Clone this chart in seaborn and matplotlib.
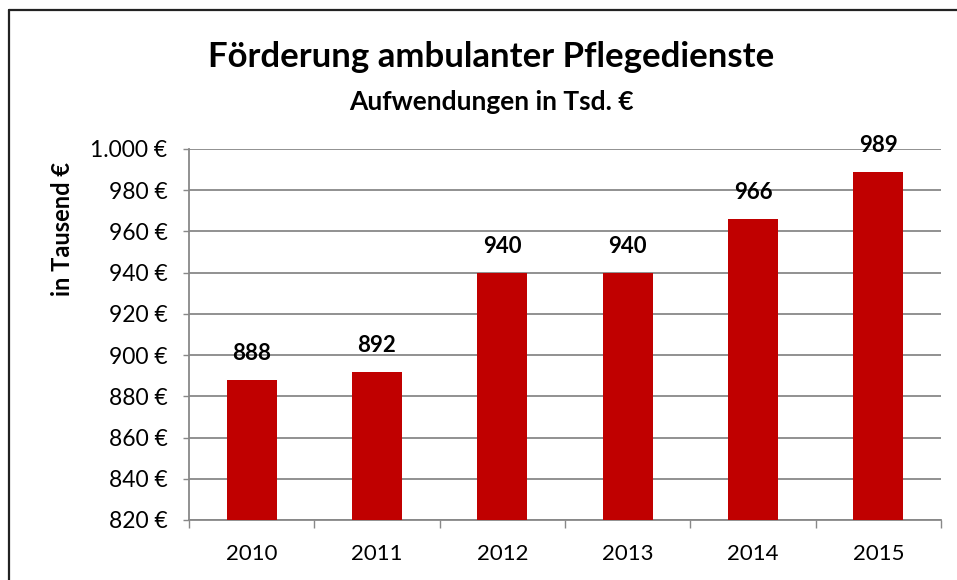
import matplotlib
matplotlib.use("Agg")
import matplotlib.pyplot as plt
from matplotlib.lines import Line2D
from matplotlib.ticker import FuncFormatter, FixedLocator
import seaborn as sns
import pandas as pd

years = ["2010", "2011", "2012", "2013", "2014", "2015"]
amounts = [888, 892, 940, 940, 966, 989]
y_ticks = [820, 840, 860, 880, 900, 920, 940, 960, 980, 1000]

title = "Förderung ambulanter Pflegedienste"
subtitle = "Aufwendungen in Tsd. €"
y_label = "in Tausend €"

sns.set_theme(style="white")
plt.rcParams["font.family"] = ["Lato", "DejaVu Sans"]

W, H = 957, 580
fig = plt.figure(figsize=(W / 100, H / 100), dpi=100)
ax = fig.add_axes([189 / W, 1 - 520 / H, (941 - 189) / W, (520 - 149) / H])

df = pd.DataFrame({"Jahr": years, "Betrag": amounts})
sns.barplot(data=df, x="Jahr", y="Betrag", color="#C00000", saturation=1,
            width=0.4, ax=ax, zorder=3, edgecolor="none")

ax.set_ylim(y_ticks[0], y_ticks[-1])
ax.set_xlim(-0.5, len(years) - 0.5)
ax.yaxis.set_major_locator(FixedLocator(y_ticks))
ax.yaxis.set_major_formatter(
    FuncFormatter(lambda v, p: f"{int(v):,} €".replace(",", ".")))
ax.grid(axis="y", color="#888888", linewidth=1.3, zorder=0)
ax.grid(axis="x", visible=False)

for side in ["top", "right"]:
    ax.spines[side].set_visible(False)
for side in ["left", "bottom"]:
    ax.spines[side].set_color("#888888")
    ax.spines[side].set_linewidth(1.3)

ax.tick_params(axis="y", which="major", direction="out", length=4.5, width=1,
               color="#888888", left=True, pad=11, labelsize=16.5,
               labelcolor="#000000")
ax.set_xticks([i - 0.5 for i in range(len(years) + 1)], minor=True)
ax.tick_params(axis="x", which="minor", direction="out", length=6, width=1,
               color="#888888", bottom=True)
ax.tick_params(axis="x", which="major", length=0, pad=17, labelsize=16,
               labelcolor="#000000")
ax.set_xlabel("")
ax.set_ylabel("")

for i, v in enumerate(amounts):
    ax.annotate(f"{v}", (i, v), xytext=(0, 19), textcoords="offset points",
                ha="center", va="center", fontsize=16, fontweight="bold",
                color="#000000", zorder=5)

fig.text(491 / W, 1 - 57 / H, title, ha="center", va="center",
         fontsize=25, fontweight="bold", color="#000000")
fig.text(491 / W, 1 - 102 / H, subtitle, ha="center", va="center",
         fontsize=19, fontweight="bold", color="#000000")
fig.text(62 / W, 1 - 229 / H, y_label, ha="center", va="center",
         rotation=90, fontsize=17, fontweight="bold", color="#000000")

# outer frame of the chart area
fig.add_artist(Line2D([9 / W, 1.0], [1 - 10 / H, 1 - 10 / H],
                      transform=fig.transFigure, color="#222222", linewidth=1.6))
fig.add_artist(Line2D([9 / W, 9 / W], [1 - 10 / H, 0.0],
                      transform=fig.transFigure, color="#222222", linewidth=1.6))

fig.savefig("out.png", dpi=100, facecolor="white")
